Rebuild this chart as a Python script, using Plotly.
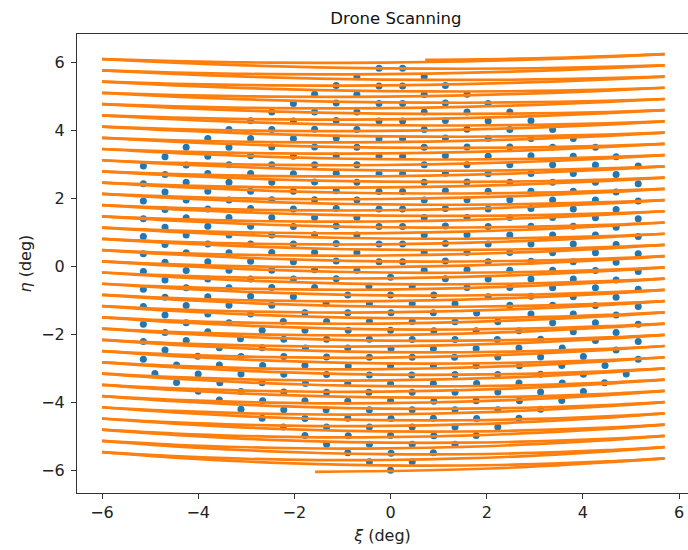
import plotly.graph_objects as go

# ---------------- scan path data (deg) ----------------
scan_left_xi = -6.0
scan_right_xi = 5.7
# xi positions of the anchors along one full pass and the fraction of the pass bow at each
pass_anchor_xi = [-6.0, -4.5, -3.0, -1.5, -0.15, 1.5, 3.0, 4.5, 5.7]
pass_bow = [0.0, 0.45, 0.76, 0.95, 1.0, 0.92, 0.71, 0.37, 0.0]

# turn-around points at the left edge (eta)
left_eta = [6.10, 5.77, 5.44, 5.11, 4.78, 4.45, 4.12, 3.79, 3.46, 3.13, 2.80, 2.47,
            2.14, 1.81, 1.48, 1.15, 0.82, 0.49, 0.16, -0.17, -0.50, -0.83, -1.16, -1.49,
            -1.82, -2.15, -2.48, -2.81, -3.14, -3.47, -3.80, -4.13, -4.46, -4.79, -5.12, -5.45]
# turn-around points at the right edge (eta)
right_eta = [6.25, 5.92, 5.59, 5.26, 4.93, 4.60, 4.27, 3.94, 3.61, 3.28, 2.95, 2.62,
             2.29, 1.96, 1.63, 1.30, 0.97, 0.64, 0.31, -0.02, -0.35, -0.68, -1.01, -1.34,
             -1.67, -2.00, -2.33, -2.66, -2.99, -3.32, -3.65, -3.98, -4.31, -4.64, -4.97, -5.30, -5.63]
# eta of each pass at xi = -0.15 (right->left passes and left->right passes)
mid_eta_back = [6.00, 5.66, 5.33, 5.00, 4.66, 4.33, 3.99, 3.66, 3.33, 2.99, 2.66, 2.33,
                1.99, 1.66, 1.33, 0.99, 0.66, 0.33, -0.01, -0.34, -0.67, -1.01, -1.34, -1.67,
                -2.01, -2.34, -2.67, -3.01, -3.34, -3.67, -4.01, -4.34, -4.68, -5.01, -5.34, -5.68]
mid_eta_fwd = [5.83, 5.50, 5.16, 4.83, 4.50, 4.16, 3.83, 3.50, 3.16, 2.83, 2.50, 2.16,
               1.83, 1.50, 1.16, 0.83, 0.50, 0.16, -0.17, -0.51, -0.84, -1.17, -1.51, -1.84,
               -2.17, -2.51, -2.84, -3.17, -3.51, -3.84, -4.17, -4.51, -4.84, -5.17, -5.51, -5.84]
start_xi = [0.72, 3.2, 5.7]
start_eta = [6.08, 6.13, 6.25]
end_xi = [5.7, 2.07, -1.57]
end_eta = [-5.63, -5.93, -6.03]

# ---------------- target points (deg) ----------------
# upper-left face
ul_base_xi = [-5.14, -4.69, -4.25, -3.80, -3.36, -2.91, -2.47, -2.02, -1.58, -1.13, -0.70, -0.24]
ul_base_eta = [-2.72, -2.45, -2.17, -1.91, -1.65, -1.39, -1.13, -0.88, -0.61, -0.35, -0.10, 0.15]
ul_rise = [0.00, 0.52, 1.03, 1.55, 2.06, 2.58, 3.10, 3.61, 4.13, 4.65, 5.16, 5.68]
# upper-right face
ur_base_xi = [5.15, 4.69, 4.26, 3.80, 3.37, 2.92, 2.48, 2.03, 1.59, 1.14, 0.70, 0.25]
ur_base_eta = [-2.72, -2.45, -2.17, -1.91, -1.65, -1.39, -1.13, -0.88, -0.61, -0.35, -0.10, 0.15]
ur_rise = [0.00, 0.52, 1.03, 1.55, 2.06, 2.58, 3.10, 3.61, 4.13, 4.65, 5.16, 5.68]
# lower face
lo_left_xi = [0.00, -0.44, -0.89, -1.33, -1.78, -2.23, -2.67, -3.11, -3.56, -4.00, -4.45, -4.90]
lo_left_eta = [-5.98, -5.73, -5.47, -5.22, -4.96, -4.71, -4.45, -4.19, -3.92, -3.66, -3.40, -3.14]
lo_right_dxi = [0.00, 0.45, 0.89, 1.34, 1.78, 2.23, 2.67, 3.12, 3.56, 4.01, 4.45, 4.90]
lo_right_deta = [0.00, 0.25, 0.51, 0.76, 1.02, 1.27, 1.53, 1.79, 2.05, 2.31, 2.57, 2.83]

x_ticks = [-6, -4, -2, 0, 2, 4, 6]
y_ticks = [-6, -4, -2, 0, 2, 4, 6]

# ---------------- build tables ----------------
dot_x, dot_y = [], []
for bx, by in zip(ul_base_xi, ul_base_eta):
    for r in ul_rise:
        dot_x.append(bx); dot_y.append(by + r)
for bx, by in zip(ur_base_xi, ur_base_eta):
    for r in ur_rise:
        dot_x.append(bx); dot_y.append(by + r)
for lx, ly in zip(lo_left_xi, lo_left_eta):
    for dx, dy in zip(lo_right_dxi, lo_right_deta):
        dot_x.append(lx + dx); dot_y.append(ly + dy)

px, py = [], []


def add_segment(xs, ys):
    px.extend(list(xs) + [None]); py.extend(list(ys) + [None])


def add_pass(y_left, y_mid, y_right, reverse):
    span = scan_right_xi - scan_left_xi
    y_chord_mid = y_left + (y_right - y_left) * (pass_anchor_xi[4] - scan_left_xi) / span
    dip = y_chord_mid - y_mid
    ys = [y_left + (y_right - y_left) * (x - scan_left_xi) / span - dip * b
          for x, b in zip(pass_anchor_xi, pass_bow)]
    xs = list(pass_anchor_xi)
    if reverse:
        xs, ys = xs[::-1], ys[::-1]
    add_segment(xs, ys)


add_segment(start_xi, start_eta)
for k in range(len(left_eta)):
    add_pass(left_eta[k], mid_eta_back[k], right_eta[k], reverse=True)
    add_pass(left_eta[k], mid_eta_fwd[k], right_eta[k + 1], reverse=False)
add_segment(end_xi, end_eta)

fig = go.Figure()
fig.add_trace(go.Scatter(x=dot_x, y=dot_y, mode="markers",
                         marker=dict(size=7, color="#1f77b4", line=dict(width=0)),
                         showlegend=False, hoverinfo="skip"))
fig.add_trace(go.Scatter(x=px, y=py, mode="lines",
                         line=dict(color="#ff7f0e", width=2.7, shape="spline", smoothing=1),
                         connectgaps=False, showlegend=False, hoverinfo="skip"))

font_main = dict(family="DejaVu Sans", size=16, color="#222")
axis_common = dict(showgrid=False, zeroline=False, ticks="outside", ticklen=5, tickwidth=1,
                   tickcolor="#333", linecolor="#333", linewidth=1, showline=True,
                   tickfont=font_main, automargin=False)
fig.update_xaxes(range=[-6.52, 6.185], tickvals=x_ticks, mirror=True,
                 title=dict(text="<i>ξ</i> (deg)", font=font_main, standoff=8),
                 **axis_common)
fig.update_yaxes(range=[-6.65, 6.84], tickvals=y_ticks, mirror=False, ticklabelstandoff=3,
                 **axis_common)
fig.update_layout(
    width=688, height=550,
    margin=dict(l=77, r=0, t=34, b=57),
    plot_bgcolor="white", paper_bgcolor="white",
    title=dict(text="Drone Scanning", x=0.522, xref="paper", xanchor="center",
               y=1 - 18 / 550, yref="container", yanchor="middle",
               font=dict(family="DejaVu Sans", size=16.5, color="#111")),
    annotations=[dict(text="<i>η</i> (deg)", textangle=-90, showarrow=False,
                      xref="paper", yref="paper", x=(25 - 77) / 611, y=0.5,
                      xanchor="center", yanchor="middle", font=font_main)],
)
fig.write_html("out.html")
